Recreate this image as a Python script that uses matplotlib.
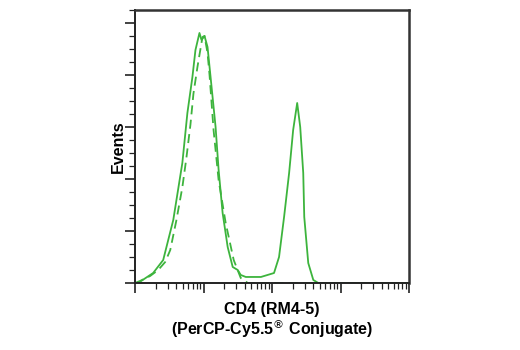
import matplotlib.pyplot as plt
from matplotlib.ticker import LogLocator, MultipleLocator, NullFormatter

# Traced histogram outlines (fluorescence intensity, event count)
solid_x = [10.0, 11.1, 18.4, 25.8, 36.2, 49.1, 58.2, 68.9, 76.3, 87.3, 93.5, 103.5, 114.5,
           126.8, 150.1, 166.2, 190.2, 225.4, 266.9, 316.2, 349.9, 414.6, 689.0, 1070.0,
           1267.0, 1501.0, 1778.0, 2036.0, 2332.0, 2582.0, 2858.0, 2957.0, 3383.0, 4009.0,
           4745.0, 10000.0, 100000.0]
solid_y = [0, 0, 9.6, 22.1, 60.6, 115.4, 163.5, 198.1, 224.0, 240.4, 233.7, 237.5, 226.9,
           198.1, 150.0, 108.7, 67.3, 34.6, 15.4, 12.5, 7.7, 5.8, 5.8, 9.6, 25.0, 63.5,
           105.8, 147.1, 173.1, 150.0, 105.8, 63.5, 19.2, 2.9, 0, 0, 0]

dash_x = [10.0, 11.8, 16.6, 21.8, 27.6, 32.7, 40.1, 49.1, 56.2, 64.4, 71.3, 81.7, 96.6,
          103.5, 114.5, 122.5, 140.3, 166.2, 210.7, 276.1, 349.9, 443.6, 100000.0]
dash_y = [0, 1.9, 6.7, 12.5, 20.2, 31.7, 60.0, 92.0, 120.0, 152.0, 182.0, 208.0, 236.5,
          237.5, 221.2, 200.0, 147.0, 99.0, 57.7, 22.1, 4.8, 0, 0]

green = '#3db43d'

plt.rcParams['font.family'] = ['Liberation Sans Narrow', 'Liberation Sans', 'DejaVu Sans']

fig = plt.figure(figsize=(5.2, 3.5), dpi=100)
ax = fig.add_axes([135 / 520, 1 - 283 / 350, 274 / 520, 273 / 350])

ax.plot(solid_x, solid_y, color=green, lw=1.3)
ax.plot(dash_x, dash_y, color=green, lw=1.3, ls=(0, (5, 3)))

ax.set_xscale('log')
ax.set_xlim(10, 100000)
ax.set_ylim(0, 262.5)

ax.xaxis.set_major_locator(LogLocator(base=10, numticks=10))
ax.xaxis.set_minor_locator(LogLocator(base=10, subs=range(2, 10), numticks=20))
ax.xaxis.set_major_formatter(NullFormatter())
ax.xaxis.set_minor_formatter(NullFormatter())
ax.yaxis.set_major_locator(MultipleLocator(50))
ax.yaxis.set_minor_locator(MultipleLocator(12.5))
ax.yaxis.set_major_formatter(NullFormatter())

ax.tick_params(which='major', length=7, width=1.2, direction='out', color='#222222')
ax.tick_params(which='minor', length=4, width=0.9, direction='out', color='#222222')
ax.tick_params(top=False, right=False)

for side in ['left', 'bottom']:
    ax.spines[side].set_color('#222222')
    ax.spines[side].set_linewidth(1.4)
for side in ['right', 'top']:
    ax.spines[side].set_color('#333333')
    ax.spines[side].set_linewidth(1.8)

ax.set_ylabel('Events', fontsize=11.5, fontweight='bold', labelpad=-4)
ax.set_xlabel('CD4 (RM4-5)\n(PerCP-Cy5.5$^{\\circledR}$ Conjugate)', fontsize=11.5,
              fontweight='bold', labelpad=3, linespacing=1.05)

fig.savefig('out.png', dpi=100)
